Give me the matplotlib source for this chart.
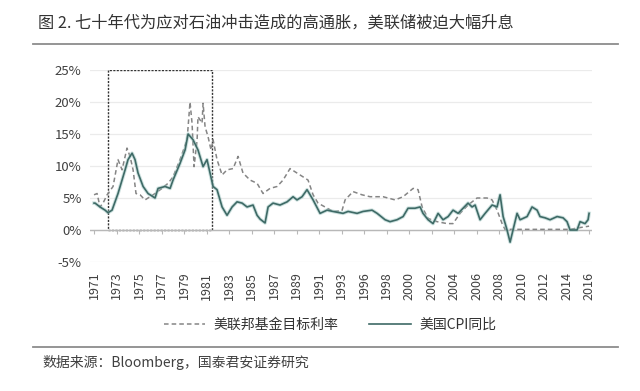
import numpy as np
import matplotlib
matplotlib.use("Agg")
import matplotlib.pyplot as plt
from matplotlib.lines import Line2D
from matplotlib.patches import Rectangle

plt.rcParams['font.family'] = ['Noto Sans CJK SC', 'DejaVu Sans']

# category axis labels (the chart's own, uneven spacing 1993 -> 1996)
tick_years = [1971, 1973, 1975, 1977, 1979, 1981, 1983, 1985, 1987, 1989, 1991,
              1993, 1996, 1998, 2000, 2002, 2004, 2006, 2008, 2010, 2012, 2014, 2016]

# US CPI yoy (%), positions read along the chart's axis
cpi_t = [1970.64, 1971.09, 1971.53, 1971.98, 1972.24, 1972.60, 1973.13, 1973.76, 1974.02,
         1974.38, 1974.64, 1974.91, 1975.36, 1975.80, 1976.42, 1976.69, 1977.31, 1977.76,
         1978.02, 1978.64, 1979.09, 1979.36, 1979.80, 1980.24, 1980.69, 1981.04, 1981.31,
         1981.58, 1981.93, 1982.38, 1982.82, 1983.27, 1983.71, 1984.16, 1984.60, 1985.13,
         1985.49, 1985.76, 1986.20, 1986.47, 1986.91, 1987.53, 1988.16, 1988.69, 1989.04,
         1989.49, 1989.93, 1990.47, 1991.09, 1991.71, 1992.24, 1993.20, 1993.87, 1995.07,
         1995.87, 1996.71, 1997.16, 1997.87, 1998.31, 1998.93, 1999.47, 1999.91, 2000.53,
         2000.98, 2001.24, 2001.69, 2002.13, 2002.58, 2003.02, 2003.47, 2003.91, 2004.36,
         2004.80, 2005.24, 2005.60, 2005.87, 2006.31, 2006.76, 2007.38, 2007.82, 2008.09,
         2008.36, 2008.71, 2008.98, 2009.24, 2009.60, 2009.87, 2010.49, 2010.93, 2011.38,
         2011.64, 2012.09, 2012.53, 2013.16, 2013.69, 2014.04, 2014.31, 2014.93, 2015.20,
         2015.64, 2015.91, 2016.27]
cpi_v = [4.2, 4.2, 3.6, 3.1, 2.7, 3.1, 5.7, 9.4, 11.0,
         12.0, 11.0, 8.9, 6.8, 5.7, 5.0, 6.5, 6.8, 6.5,
         7.8, 10.4, 12.5, 15.0, 14.1, 12.5, 9.9, 11.0, 8.9,
         6.8, 6.3, 3.6, 2.3, 3.6, 4.4, 4.2, 3.6, 3.9,
         2.3, 1.7, 1.1, 3.6, 4.2, 3.9, 4.4, 5.2, 4.7,
         5.2, 6.3, 4.7, 2.6, 3.1, 2.9, 2.6, 2.9, 2.6,
         2.9, 3.1, 2.6, 1.6, 1.3, 1.6, 2.1, 3.4, 3.4,
         3.6, 2.6, 1.6, 1.0, 2.6, 1.6, 2.1, 3.1, 2.6,
         3.4, 4.2, 3.6, 3.9, 1.6, 2.6, 3.9, 3.6, 5.5,
         2.1, 0.0, -1.9, 0.0, 2.6, 1.6, 2.1, 3.6, 3.1,
         2.1, 1.9, 1.6, 2.1, 1.9, 1.3, 0.0, 0.0, 1.3,
         1.0, 1.6, 2.6]

# Fed funds target rate (%)
ff_t = [1970.82, 1971.27, 1971.53, 1971.80, 1972.16, 1972.69, 1973.13, 1973.49, 1973.93,
        1974.20, 1974.47, 1974.73, 1975.09, 1975.53, 1975.98, 1976.42, 1977.04, 1977.58,
        1978.02, 1978.64, 1979.27, 1979.53, 1979.71, 1979.89, 1980.16, 1980.24, 1980.60,
        1980.69, 1980.87, 1981.13, 1981.40, 1981.58, 1981.93, 1982.38, 1982.82, 1983.36,
        1983.80, 1984.24, 1984.87, 1985.49, 1986.02, 1986.64, 1987.27, 1987.80, 1988.42,
        1989.04, 1989.58, 1990.02, 1990.47, 1990.91, 1991.53, 1992.24, 1993.05, 1993.47,
        1994.53, 1995.73, 1996.53, 1997.69, 1998.76, 1999.47, 2000.36, 2000.80, 2001.16,
        2001.69, 2002.49, 2003.38, 2003.91, 2004.53, 2005.24, 2006.04, 2006.93, 2007.38,
        2007.82, 2008.27, 2008.53, 2014.31, 2014.93, 2015.64, 2016.09]
ff_v = [5.5, 5.7, 3.6, 4.2, 5.5, 6.8, 11.0, 9.4, 12.8,
        11.5, 9.4, 5.7, 5.5, 4.7, 5.2, 5.7, 6.5, 7.3,
        8.3, 11.0, 14.1, 20.0, 16.7, 9.9, 14.1, 17.7, 16.7,
        19.8, 16.1, 14.6, 12.5, 14.1, 11.0, 8.6, 9.4, 9.6,
        11.5, 8.9, 7.8, 7.3, 5.7, 6.5, 6.8, 7.8, 9.6,
        8.9, 8.3, 7.8, 5.5, 4.2, 3.6, 2.9, 3.0, 4.7,
        6.0, 5.5, 5.2, 5.2, 4.7, 5.2, 6.5, 6.3, 3.6,
        1.8, 1.3, 1.0, 1.0, 2.6, 3.9, 5.0, 5.0, 4.7,
        3.1, 1.0, 0.1, 0.1, 0.3, 0.5, 0.6]

box_years = [1972.2, 1981.5]   # highlighted 1970s period
box_top = 25

title = "图 2. 七十年代为应对石油冲击造成的高通胀，美联储被迫大幅升息"
source = "数据来源：Bloomberg，国泰君安证券研究"
ff_label = "美联邦基金目标利率"
cpi_label = "美国CPI同比"

idx = np.arange(len(tick_years))


def pos(t):
    return np.interp(t, tick_years, idx)


fig = plt.figure(figsize=(6.4, 3.91), dpi=100)
ax = fig.add_axes([90 / 640, 1 - 262 / 391, 502 / 640, 192 / 391])

ff_color = "#858585"
cpi_color = "#3e6a66"

ax.plot(pos(ff_t), ff_v, color=ff_color, lw=1.1, ls=(0, (3, 2)))
ax.plot(pos(cpi_t), cpi_v, color="#9cc4c0", lw=2.6, alpha=0.5)
ax.plot(pos(cpi_t), cpi_v, color=cpi_color, lw=1.2)

x0, x1 = pos(box_years)
ax.add_patch(Rectangle((x0, 0), x1 - x0, box_top, fill=False, ec="#333333",
                       lw=1.0, ls=(0, (1.5, 1))))

ax.set_ylim(-5, 25)
ax.set_xlim(-0.18, 22.13)
yt = np.arange(-5, 26, 5)
ax.set_yticks(yt)
ax.set_yticklabels([f"{v}%" for v in yt], fontsize=9.5, color="#404040")
ax.set_xticks(idx)
ax.set_xticklabels([str(y) for y in tick_years], rotation=90, fontsize=9, color="#404040")
ax.tick_params(axis='x', length=0, pad=7)
ax.tick_params(axis='y', length=0, pad=6)
for s in ax.spines.values():
    s.set_visible(False)
ax.grid(axis='y', color="#ebebeb", lw=0.9)
ax.set_axisbelow(True)
ax.axhline(0, color="#b8b8b8", lw=1.0, zorder=1)
ax.vlines(idx, -0.6, 0, color="#b8b8b8", lw=0.8, zorder=1)

# title, separators, legend, source
fig.text(38 / 640, 1 - 23 / 391, title, fontsize=11.7, color="#333333", va="center")
fig.add_artist(Line2D([33 / 640, 618 / 640], [1 - 44 / 391] * 2, color="#8c8c8c", lw=1.3))
fig.add_artist(Line2D([33 / 640, 618 / 640], [1 - 347 / 391] * 2, color="#8c8c8c", lw=1.3))
fig.text(42 / 640, 1 - 363 / 391, source, fontsize=10, color="#404040", va="center")

handles = [Line2D([], [], color=ff_color, lw=1.1, ls=(0, (3, 2))),
           Line2D([], [], color=cpi_color, lw=1.2)]
fig.legend(handles, [ff_label, cpi_label], loc="center", ncol=2,
           bbox_to_anchor=(330 / 640, 1 - 325 / 391), frameon=False,
           fontsize=10, handlelength=3.0, columnspacing=2.2, handletextpad=0.6,
           labelcolor="#333333")

fig.savefig("out.png", dpi=100)
